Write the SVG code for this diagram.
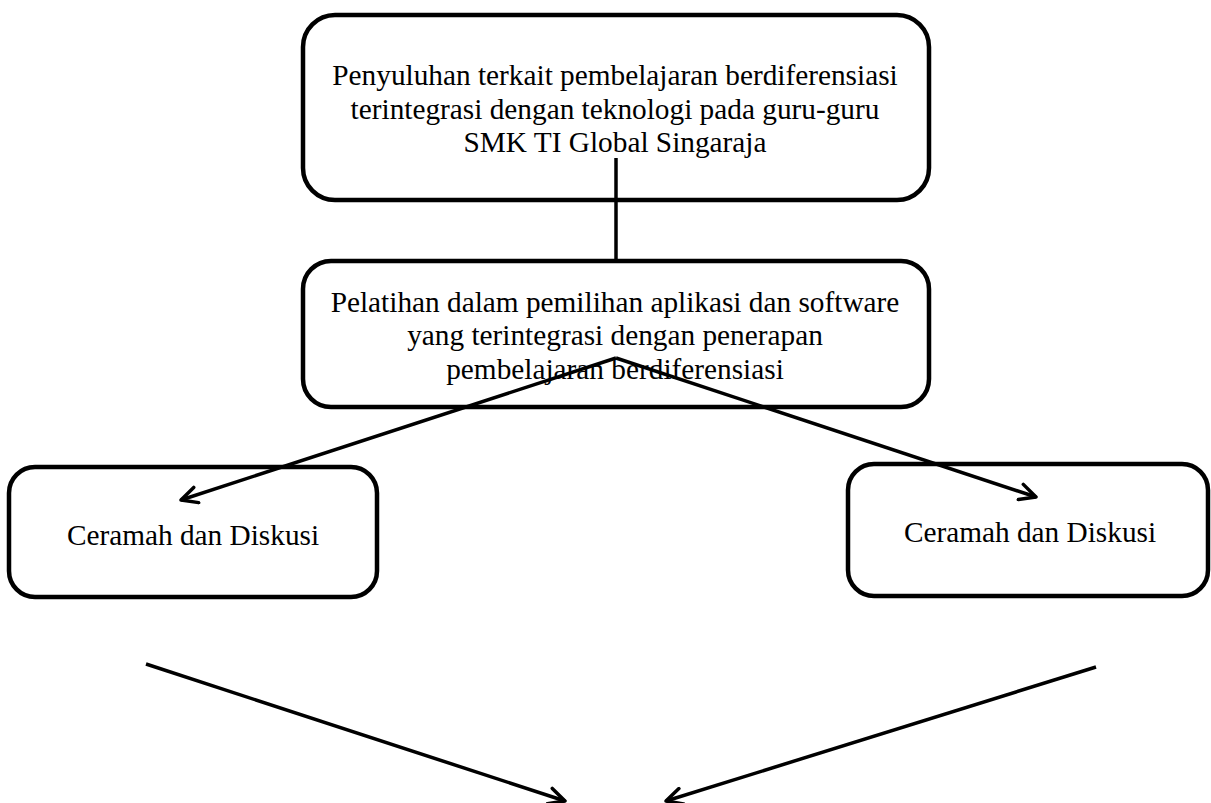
<svg xmlns="http://www.w3.org/2000/svg" width="1211" height="803" viewBox="0 0 1211 803">
<style>
.box{fill:#fff;stroke:#000;stroke-width:4.5}
.t{font-family:"Liberation Serif","Times New Roman",serif;font-size:29.3px;fill:#000;text-anchor:middle}
.c{fill:none;stroke:#000;stroke-width:3.5}
</style>
<defs>
<marker id="ah" viewBox="0 0 20 20" refX="18" refY="10" markerWidth="20" markerHeight="20" markerUnits="userSpaceOnUse" orient="auto">
<path d="M2,2 L18,10 L2,18" fill="none" stroke="#000" stroke-width="3.5" stroke-linecap="round" stroke-linejoin="round"/>
</marker>
</defs>
<rect width="1211" height="803" fill="#fff"/>
<g id="node-penyuluhan">
<rect class="box" x="303" y="15" width="626" height="185" rx="32"/>
<text class="t" x="615" y="85">Penyuluhan terkait pembelajaran berdiferensiasi</text>
<text class="t" x="615" y="118.5">terintegrasi dengan teknologi pada guru-guru</text>
<text class="t" x="615" y="152">SMK TI Global Singaraja</text>
</g>
<g id="node-pelatihan">
<rect class="box" x="303" y="261" width="626" height="146" rx="28"/>
<text class="t" x="615" y="311.5">Pelatihan dalam pemilihan aplikasi dan software</text>
<text class="t" x="615" y="345">yang terintegrasi dengan penerapan</text>
<text class="t" x="615" y="378.5">pembelajaran berdiferensiasi</text>
</g>
<g id="node-ceramah-kiri">
<rect class="box" x="9" y="467" width="368" height="130" rx="26"/>
<text class="t" x="193" y="545">Ceramah dan Diskusi</text>
</g>
<g id="node-ceramah-kanan">
<rect class="box" x="848" y="464" width="360" height="132" rx="26"/>
<text class="t" x="1030" y="542">Ceramah dan Diskusi</text>
</g>
<g id="connectors">
<line class="c" x1="616" y1="158" x2="616" y2="261"/>
<line class="c" x1="616" y1="358" x2="181" y2="500" marker-end="url(#ah)"/>
<line class="c" x1="616" y1="358" x2="1036" y2="497" marker-end="url(#ah)"/>
<line class="c" x1="146" y1="664" x2="565" y2="801" marker-end="url(#ah)"/>
<line class="c" x1="1096" y1="667" x2="666" y2="801" marker-end="url(#ah)"/>
</g>
</svg>
